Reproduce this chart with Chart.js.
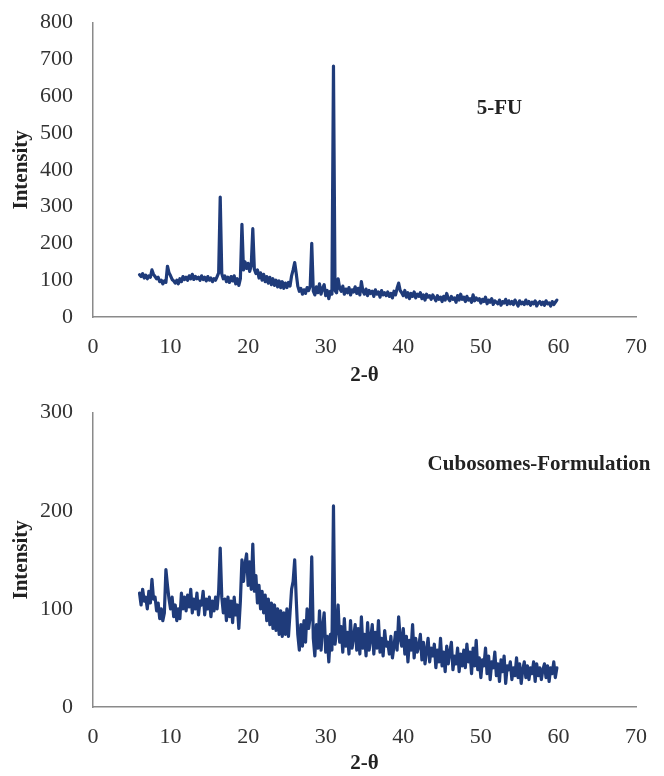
<!DOCTYPE html>
<html>
<head>
<meta charset="utf-8">
<script src="https://cdn.jsdelivr.net/npm/chart.js@4.4.0/dist/chart.umd.min.js"></script>
<style>
    body { margin: 0; background: #fff; }
    .box { width: 664px; height: 388px; position: relative; }
</style>
</head>
<body>
<div class="box"><canvas id="chartFU"></canvas></div>
<div class="box"><canvas id="chartCubo"></canvas></div>
<script>
// 2-theta grid: 6.0 .. 59.8 in 0.2 steps, 10 values per row (one row = 2 degrees)
const thetaStart = 6.0;
const thetaStep = 0.2;

const intensityFU = [
    115, 110, 118, 106, 114, 104, 112, 108, 128, 116,
    110, 104, 108, 96, 100, 90, 98, 94, 138, 120,
    112, 102, 98, 92, 100, 90, 104, 96, 110, 102,
    108, 100, 112, 104, 116, 102, 110, 104, 108, 100,
    112, 102, 108, 98, 110, 100, 106, 96, 104, 100,
    110, 120, 326, 118, 104, 112, 96, 108, 94, 110,
    98, 112, 90, 104, 86, 104, 252, 128, 150, 132,
    146, 124, 140, 240, 130, 118, 128, 106, 120, 100,
    116, 96, 110, 92, 108, 88, 104, 86, 100, 82,
    98, 80, 96, 78, 92, 80, 94, 84, 112, 128,
    148, 118, 84, 70, 78, 62, 74, 64, 80, 72,
    84, 200, 70, 60, 82, 66, 90, 62, 78, 88,
    58, 72, 50, 70, 62, 682, 72, 66, 104, 78,
    70, 84, 62, 76, 66, 80, 60, 74, 68, 82,
    64, 78, 60, 96, 70, 62, 76, 58, 72, 64,
    70, 56, 74, 62, 68, 54, 72, 60, 66, 58,
    68, 56, 64, 52, 70, 60, 78, 92, 72, 66,
    58, 72, 54, 66, 50, 64, 56, 68, 52, 62,
    56, 66, 50, 60, 46, 62, 54, 58, 48, 60,
    52, 44, 58, 48, 54, 42, 56, 46, 64, 50,
    44, 56, 48, 52, 40, 58, 46, 62, 48, 54,
    42, 56, 46, 50, 40, 60, 44, 52, 46, 50,
    38, 48, 42, 54, 36, 46, 40, 50, 34, 44,
    40, 36, 46, 32, 42, 38, 48, 34, 44, 36,
    42, 34, 46, 38, 30, 44, 36, 40, 34, 46,
    36, 42, 32, 40, 36, 44, 30, 38, 42, 34,
    40, 32, 44, 36, 38, 30, 42, 34, 40, 46
];

const intensityCubo = [
    116, 104, 120, 108, 112, 100, 118, 106, 130, 110,
    112, 98, 106, 90, 100, 88, 96, 140, 124, 110,
    100, 112, 92, 104, 88, 100, 90, 116, 100, 112,
    98, 114, 102, 120, 96, 110, 100, 116, 94, 108,
    104, 118, 94, 110, 100, 112, 92, 108, 98, 112,
    100, 118, 162, 112, 96, 110, 88, 112, 92, 108,
    86, 112, 94, 104, 80, 108, 150, 128, 146, 156,
    124, 148, 120, 166, 118, 134, 106, 124, 100, 118,
    96, 114, 88, 110, 84, 106, 80, 104, 78, 100,
    74, 98, 72, 96, 74, 100, 72, 96, 120, 128,
    150, 110, 74, 58, 84, 62, 88, 66, 100, 80,
    92, 153, 70, 52, 84, 60, 98, 58, 82, 96,
    56, 72, 46, 74, 58, 205, 64, 78, 104, 66,
    82, 56, 90, 62, 76, 54, 88, 60, 72, 84,
    58, 80, 54, 92, 60, 74, 52, 86, 58, 70,
    84, 54, 76, 60, 88, 56, 70, 52, 78, 62,
    66, 54, 72, 50, 62, 76, 58, 92, 70, 62,
    80, 54, 72, 46, 68, 58, 84, 50, 70, 56,
    62, 74, 48, 66, 44, 58, 70, 46, 60, 52,
    64, 40, 58, 46, 70, 42, 56, 36, 62, 44,
    56, 66, 38, 52, 44, 60, 36, 54, 42, 58,
    40, 64, 46, 56, 34, 60, 42, 68, 38, 50,
    30, 48, 42, 60, 34, 52, 28, 46, 40, 56,
    32, 44, 26, 48, 36, 52, 24, 42, 38, 46,
    28, 40, 32, 50, 30, 44, 24, 38, 46, 30,
    42, 28, 40, 34, 46, 26, 44, 32, 40, 28,
    38, 44, 30, 42, 26, 40, 34, 46, 30, 40
];

const xTicksMax = 70;
const yMaxFU = 800;
const yMaxCubo = 300;

const lineColor = '#1f3b7a';
const axisColor = '#8a8a8a';
const textColor = '#333333';
const serif = '"Liberation Serif", "Times New Roman", serif';

const toPoints = values => values.map((v, i) => ({
    x: Math.round((thetaStart + i * thetaStep) * 10) / 10,
    y: v
}));

// draws the sample name inside the plot
const sampleLabel = {
    id: 'sampleLabel',
    afterDraw(chart, args, opts) {
        const ctx = chart.ctx;
        const px = chart.scales.x.getPixelForValue(opts.x);
        const py = chart.scales.y.getPixelForValue(opts.y);
        ctx.save();
        ctx.font = 'bold 21px ' + serif;
        ctx.fillStyle = '#222';
        ctx.textAlign = 'center';
        ctx.textBaseline = 'middle';
        ctx.fillText(opts.text, px, py);
        ctx.restore();
    }
};

const renderXrd = (canvasId, values, yMax, label, topPad, xAxisHeight) => {
    const config = {
        type: 'line',
        data: {
            datasets: [{
                data: toPoints(values),
                borderColor: lineColor,
                borderWidth: 3.2,
                borderJoinStyle: 'round',
                borderCapStyle: 'round',
                pointRadius: 0,
                tension: 0,
                fill: false
            }]
        },
        options: {
            responsive: false,
            animation: false,
            layout: { padding: { top: topPad, right: 27, left: 0, bottom: 0 } },
            plugins: {
                legend: { display: false },
                tooltip: { enabled: false },
                sampleLabel: label
            },
            scales: {
                x: {
                    type: 'linear',
                    min: 0,
                    max: xTicksMax,
                    grid: { display: false, drawTicks: false },
                    border: { color: axisColor, width: 1.5 },
                    ticks: { stepSize: 10, padding: 17, color: textColor, font: { family: serif, size: 22 } },
                    title: { display: true, text: '2-θ', color: '#222', font: { family: serif, size: 21, weight: 'bold' }, padding: 0 },
                    afterFit: scale => { scale.height = xAxisHeight; }
                },
                y: {
                    min: 0,
                    max: yMax,
                    grid: { display: false, drawTicks: false },
                    border: { color: axisColor, width: 1.5 },
                    ticks: { stepSize: 100, padding: 20, color: textColor, font: { family: serif, size: 22 } },
                    title: { display: true, text: 'Intensity', color: '#222', font: { family: serif, size: 21, weight: 'bold' }, padding: { top: 9, bottom: 0 } },
                    afterFit: scale => {
                        scale.width = 93;
                        // top label may hang into the padding
                        scale.paddingTop = 0;
                        scale.paddingBottom = 0;
                    }
                }
            }
        },
        plugins: [sampleLabel]
    };
    const canvas = document.getElementById(canvasId);
    canvas.width = 664;
    canvas.height = 388;
    new Chart(canvas, config);
};

renderXrd('chartFU', intensityFU, yMaxFU, { text: '5-FU', x: 52.4, y: 566 }, 22.7, 71);
renderXrd('chartCubo', intensityCubo, yMaxCubo, { text: 'Cubosomes-Formulation', x: 57.5, y: 247 }, 24.7, 69);
</script>
</body>
</html>
